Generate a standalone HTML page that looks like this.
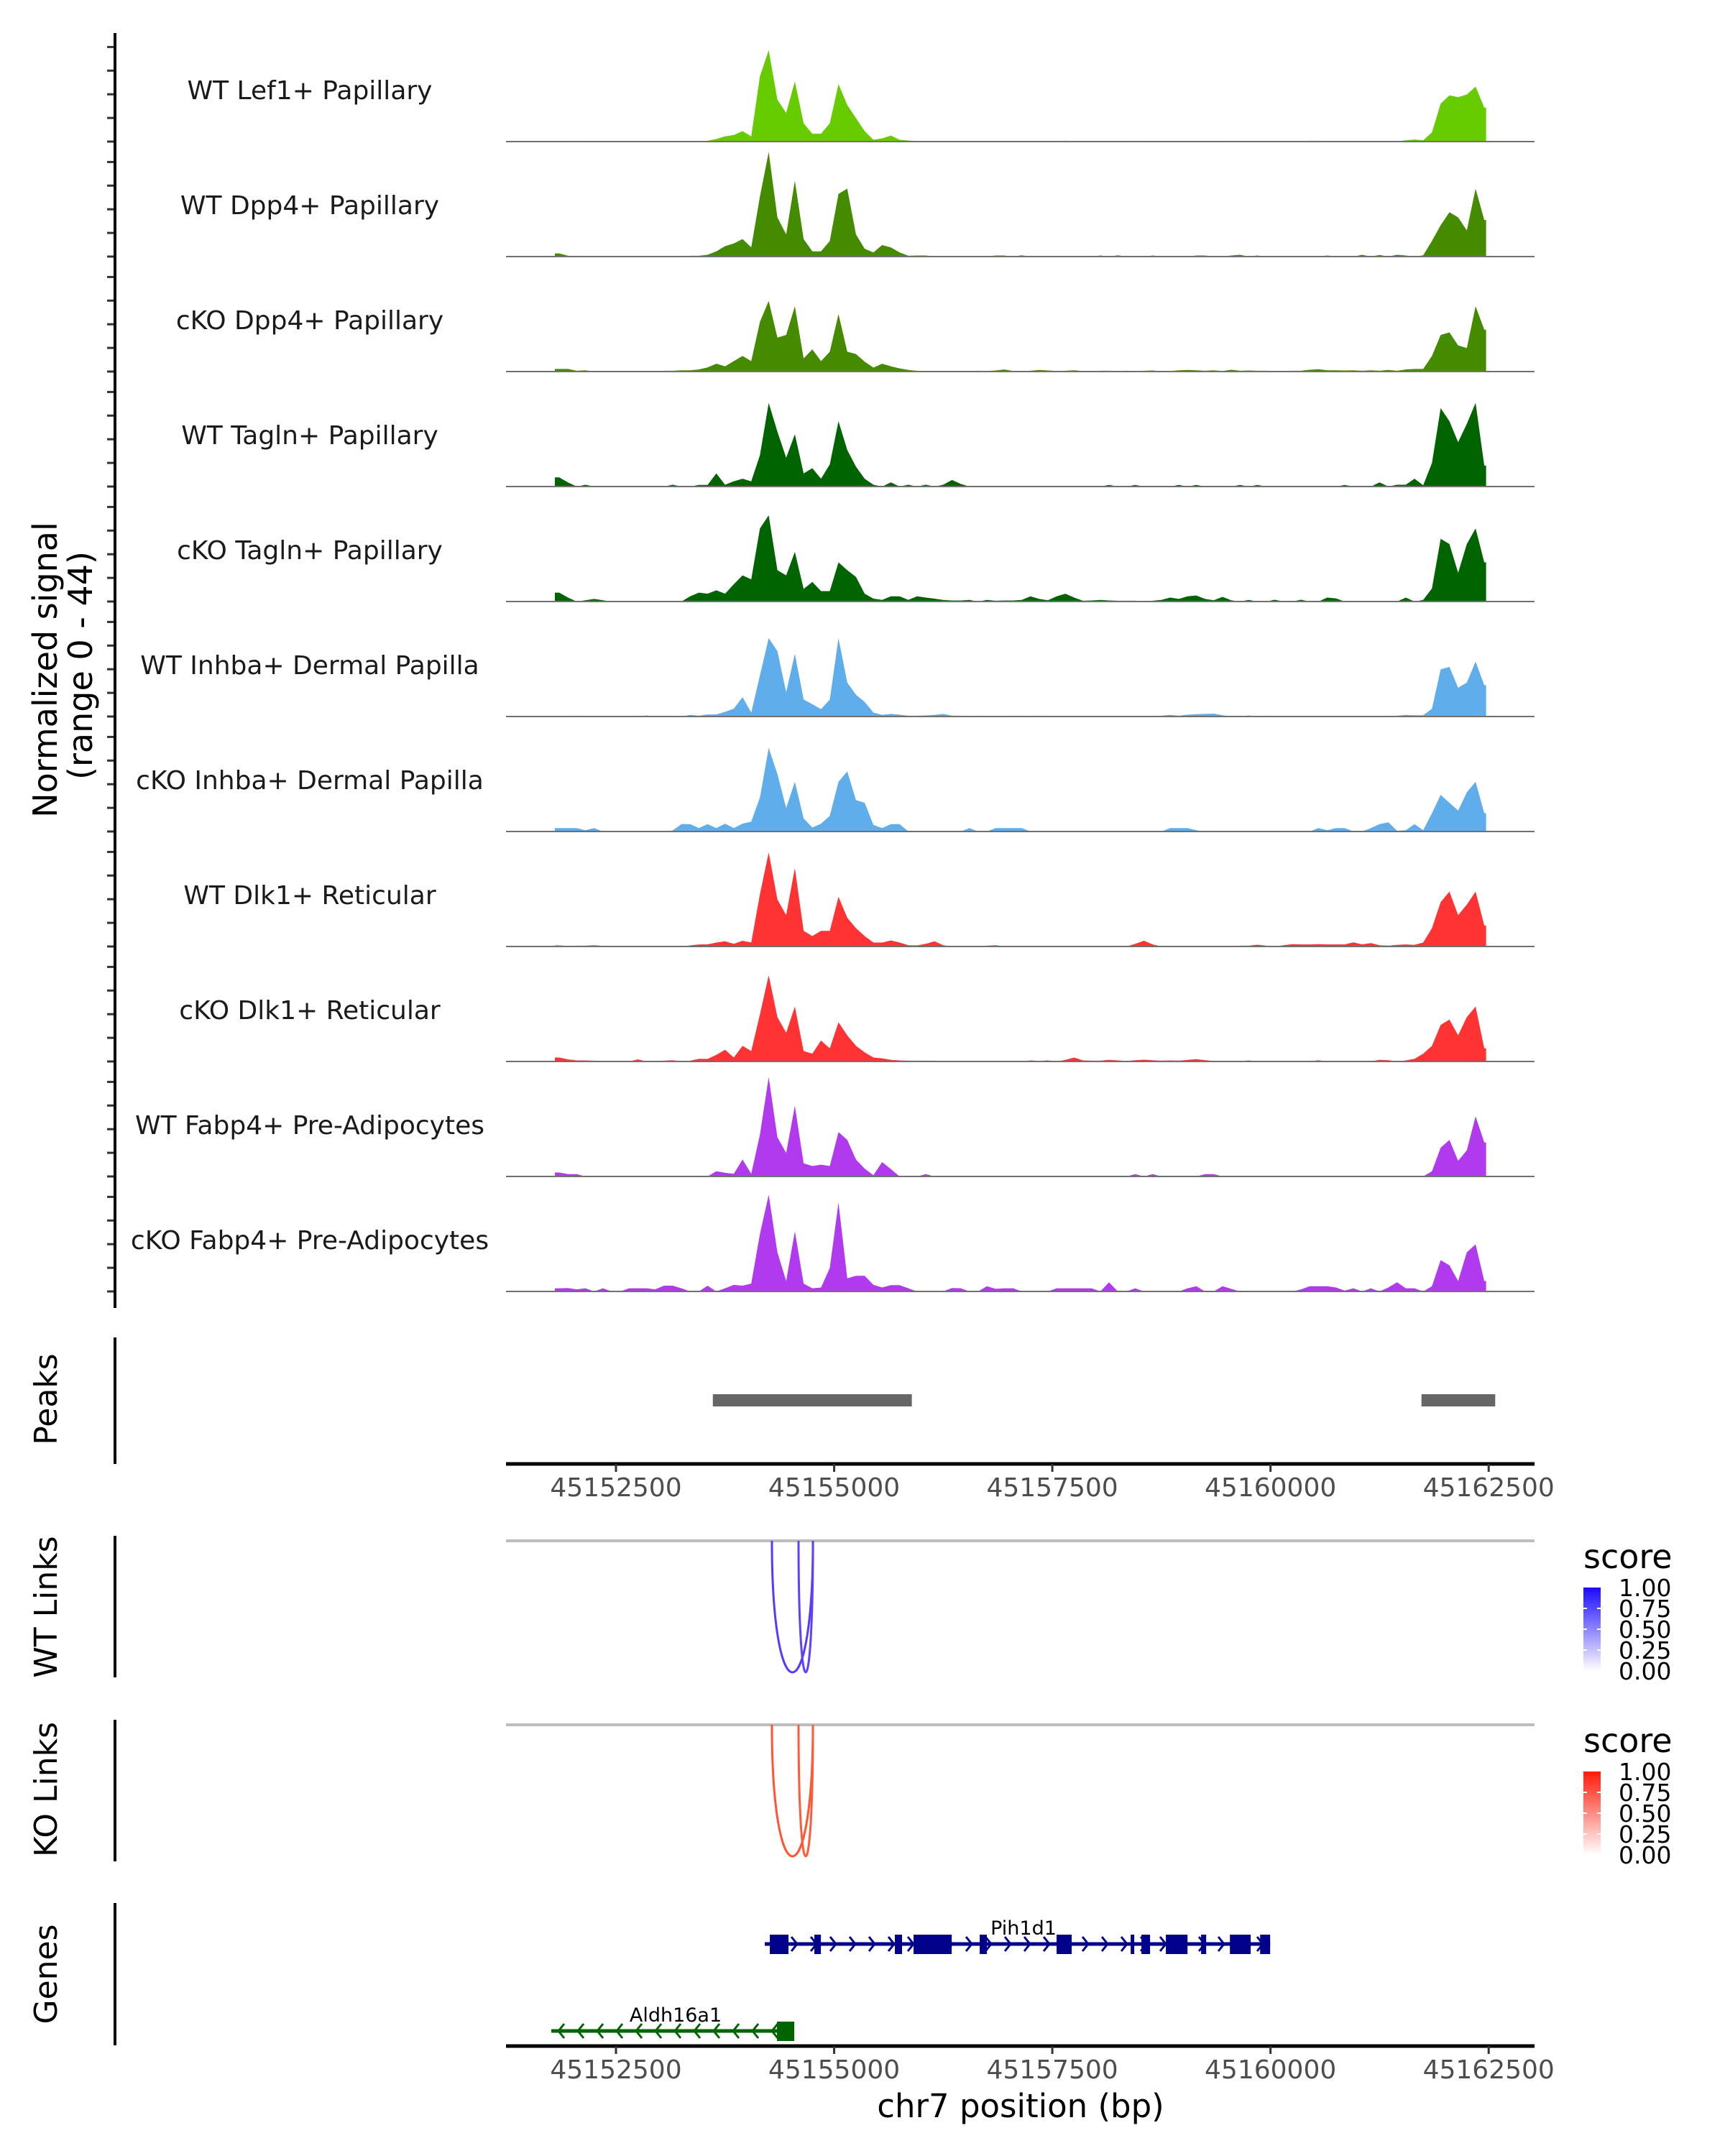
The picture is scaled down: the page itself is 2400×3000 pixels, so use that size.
<!DOCTYPE html>
<html><head><meta charset="utf-8">
<style>
html,body{margin:0;padding:0;background:#fff;}
svg{display:block;}
text{font-family:"DejaVu Sans","Liberation Sans",sans-serif;}
</style></head>
<body>
<svg id="chart" width="2400" height="3000" viewBox="0 0 2400 3000" xmlns="http://www.w3.org/2000/svg">
<rect width="2400" height="3000" fill="#fff"/>
</svg>
<script>
// ---- data ----
const trackNames = ["WT Lef1+ Papillary","WT Dpp4+ Papillary","cKO Dpp4+ Papillary","WT Tagln+ Papillary","cKO Tagln+ Papillary","WT Inhba+ Dermal Papilla","cKO Inhba+ Dermal Papilla","WT Dlk1+ Reticular","cKO Dlk1+ Reticular","WT Fabp4+ Pre-Adipocytes","cKO Fabp4+ Pre-Adipocytes"];
const trackColors = ["#66cc00","#448b00","#448b00","#006400","#006400","#5fadeb","#5fadeb","#ff3333","#ff3333","#b23aee","#b23aee"];
const binStart = 45151800;
const binSize = 100;
const yMax = 44;
const lef1WT = [0,0.2,0.3,0,0,0,0,0,0,0, 0,0,0.1,0.1,0,0,0.2,0.3,1,2, 2.5,4,2,25,35,16,11,23,7,3, 3,7,22,14,9,4,0.7,1.2,2.3,0.7, 0.4,0.2,0.2,0.2,0.1,0.1,0.1,0,0,0, 0,0,0,0.2,0.1,0.2,0.1,0.2,0.3,0.2, 0.1,0,0,0.1,0.2,0,0.3,0.1,0.2,0.1, 0,0.1,0.2,0.1,0,0.1,0.2,0.3,0.1,0.1, 0,0,0,0,0,0.2,0.3,0.3,0.1,0.1, 0.1,0,0,0.1,0.2,0,0.1,0.5,0.8,0.5, 3.5,14.5,17.7,17,18,21,13];
const dpp4WT = [1.2,0.3,0,0,0,0,0,0,0,0, 0,0,0,0,0,0.3,0.3,0.7,2,4, 5,6.7,3.5,23,40,15,8.5,29,6.7,2, 2,6,24,26,8.5,3,1.6,4.4,3.5,1.6, 0.3,0.4,0.4,0,0,0,0,0,0,0, 0.4,0.4,0,0.5,0,0,0,0,0,0, 0,0,0.4,0,0.5,0,0,0,0.4,0, 0,0,0,0.4,0.4,0,0,0.4,0.7,0, 0.4,0,0,0,0,0,0,0,0.4,0, 0,0,0.7,0,0.6,0,0.7,0.4,0,0.5, 6,12,17,15,10,26,14];
const dpp4KO = [1,1,0.3,0.5,0,0,0,0,0,0, 0,0,0.3,0.3,0.5,0.5,0.8,1.6,3,2, 4,6,4,19,27,13,14,25,5,8.5, 4,7.6,22,7.6,6.7,3.8,1.5,3,2,1.2, 0.6,0.3,0.2,0,0,0,0,0.2,0.3,0.2, 0.4,0.8,0.2,0.2,0.3,0.6,0.4,0.2,0.3,0.5, 0.2,0,0.3,0.3,0.2,0.3,0.2,0.3,0.4,0.1, 0.2,0.5,0.6,0.5,0.3,0.5,0.2,0.7,0.3,0.4, 0.3,0.3,0.2,0.2,0.3,0.3,0.7,0.9,0.5,0.5, 0.4,0.5,0.3,0.5,0.3,0.6,0.3,0.8,1,1, 6,14,15,10,9,25,16];
const taglnWT = [3.5,1.6,0,0.7,0,0,0,0,0,0, 0,0,0,0.7,0,0,0.6,0.6,5,0.7, 2,3,2,12,32,21,11,20,5,7, 3,8.5,25,14,7.6,3,0.7,0,1.6,0, 0.7,0,0.7,0,0.7,2.5,1,0,0,0, 0,0,0,0,0,0,0,0,0,0, 0,0,0,0.6,0,0,0.6,0,0,0, 0,0.6,0,0.6,0,0,0,0,0.6,0, 0.6,0,0,0,0,0,0,0,0,0, 0.6,0,0,0,1.6,0,0.7,0.7,3,0.5, 9,30,25,17,24,32,8];
const taglnKO = [3.4,1.5,0,0.5,1,0.5,0,0,0,0, 0,0,0.3,0,0,2,3.4,3,4.3,3, 6.6,10,8.5,28,33,12,10,19,4.8,7.5, 4,4,15,12,9.4,3,1.1,0.6,2,2, 0.6,2,1.5,1.1,0.6,0.4,0.4,0.6,0,0.6, 0.3,0.4,0.4,0.6,2,1,0.5,2,3,1.5, 0.3,0.4,0.6,0.4,0.3,0.3,0.3,0,0.3,0.6, 1.5,1,2,2.3,1,0.5,1.8,0.5,0,0.6, 0,0,0.7,0,0,0.7,0,0,1.5,1.2, 0,0,0,0,0,0,0,1.5,0,0.6, 5,24,22,11,22,28,15];
const inhbaWT = [0,0,0.3,0,0,0,0,0,0,0, 0.4,0,0.3,0,0,0.6,0.3,0.8,0.8,1.8, 3,7.4,1.5,15.7,30,25,9.3,24,6.5,4.7, 2.8,6.5,30,13,8.3,5.6,1.5,0.6,1,0.7, 0.3,0.3,0.4,0.6,1,0.3,0.3,0,0.3,0, 0,0,0.3,0,0,0.3,0,0,0,0, 0,0,0,0,0,0,0,0,0,0.3, 0.6,0.3,0.7,0.9,1,1.1,0.5,0,0,0.4, 0,0.3,0,0,0,0,0,0,0,0, 0,0,0,0,0,0,0.3,0.6,0.5,0.5, 3,18,19,11,13,21,12];
const inhbaKO = [1.3,1.3,1.3,0.5,1.3,0,0,0,0,0, 0,0,0,0.4,2.8,2.8,1.3,2.8,1.3,3, 1.3,3,3.8,13,32,22,9,19,5,1.5, 3,6,19,23,12,11,2.5,1.3,2.8,2.8, 0,0,0,0,0,0,0,1.3,0,0, 1.3,1.3,1.3,1.3,0,0,0,0,0,0, 0,0,0,0,0,0,0,0,0,0, 1.3,1.3,1.3,0.5,0,0,0,0,0,0, 0,0,0,0,0,0,0,1.3,0.5,1.3, 1.3,0,0,1.3,2.8,3.5,0.3,0.5,2.8,0.5, 7,14,11,8,15,19,7];
const dlk1WT = [0.4,0.2,0.3,0.3,0.5,0.2,0,0,0,0, 0,0,0,0,0,0.4,0.8,0.8,1.5,2, 1,2.2,1.5,20,36,18,12,30,6,4, 6,6,19,11,7,4,1.5,1.5,2.3,1.5, 0.5,0.4,1,2,0.5,0,0,0,0,0.3, 0.5,0,0,0,0,0,0,0,0,0, 0,0,0,0,0.3,0,1,2.2,0.8,0, 0,0,0,0,0,0,0,0,0.3,0.3, 0.7,0.3,0,0.5,0.9,0.8,0.8,0.9,0.8,0.8, 0.8,1.6,0.8,1.3,0.5,0.3,0.6,0.8,0.6,1.5, 7,17,21,12,16,21,8];
const dlk1KO = [1.5,0.8,0.4,0.4,0.3,0,0.3,0,0,0.8, 0,0,0.3,0.5,0,0.3,1,1,2.5,4.5, 1.5,6,4,18,33,17,11,21,4,3, 8,5,15,10,6,3.5,1.5,1.2,0.6,0.4, 0.3,0.3,0.3,0.3,0,0,0,0,0.3,0, 0,0,0,0,0.4,0.2,0.4,0,0.6,1.5, 0.4,0.3,0.3,0.6,0.4,0.2,0.5,0.7,0.5,0.3, 0.4,0.3,0.6,0.9,0.5,0.2,0,0,0,0.4, 0,0.3,0,0,0,0.3,0,0.5,0,0, 0,0,0,0,0.6,0.5,0,0.4,1,3, 6,14,16,10,17,21,5];
const fabp4WT = [1.5,0.9,0.9,0,0,0,0,0,0,0, 0,0,0,0,0,0,0,0,2,1.4, 1,6.5,1,16,38,15,9,27,5,4, 4.5,4,17,14,6.5,3,0.5,5.5,2.8,0, 0,0,0.9,0,0,0,0,0,0,0, 0,0,0,0,0,0,0,0,0,0, 0,0,0,0,0,0,0.9,0,0.9,0, 0,0,0,0,0.9,0.9,0,0,0,0, 0,0,0,0,0,0,0,0,0,0, 0,0,0,0,0,0,0,0,0,0, 2,11,14,6,10,23,13];
const fabp4KO = [1.2,1.3,0.8,1.2,0,1.2,0,0,1.2,1.2, 1.2,0.8,2.2,2.2,1.2,0,0,2.2,0,1.2, 2.5,2.2,3,22,37,15,4,23,3,1.2, 1.5,9,34,5,6,6,2.5,1.5,2.4,2.4, 1.2,0,0,0,0,1.3,1.2,0,0,2, 1,1.2,1.2,0,0,0,0,1.2,1.2,1.2, 1.2,1.2,0,3.5,0,0,1.2,0,0,0, 0,0,1.2,2,0,0,2,1,0,0, 0,0,0,0,0,0.8,2,2,2,1.5, 0.3,1.2,0,1.2,0,1.5,3.5,1.2,1.2,0, 2,12,10,4,15,18,4];
const trackValues = [lef1WT,dpp4WT,dpp4KO,taglnWT,taglnKO,inhbaWT,inhbaKO,dlk1WT,dlk1KO,fabp4WT,fabp4KO];
const xTicks = [45152500,45155000,45157500,45160000,45162500];
const peakStarts = [45153610,45161730];
const peakEnds = [45155890,45162575];
const wtLinkStarts = [45154287,45154592];
const wtLinkEnds = [45154757,45154757];
const koLinkStarts = [45154287,45154592];
const koLinkEnds = [45154757,45154757];
const legendTicks = ["1.00","0.75","0.50","0.25","0.00"];
const pihExonStarts = [45154263,45154773,45155696,45155910,45156668,45157549,45158398,45158521,45158801,45159205,45159535,45159881];
const pihExonEnds   = [45154477,45154848,45155778,45156347,45156750,45157722,45158439,45158620,45159049,45159263,45159773,45159996];
const pihRange = [45154205,45159996];
const aldhRange = [45151759,45154543];
const aldhExonStarts = [45154345];
const aldhExonEnds = [45154543];

// ---- helpers ----
const NS = "http://www.w3.org/2000/svg";
const svg = document.getElementById("chart");
function mk(tag, attrs, parent){ const e=document.createElementNS(NS,tag); for(const k in attrs) e.setAttribute(k,attrs[k]); (parent||svg).appendChild(e); return e; }
const X0 = 704, X1 = 2135;
function xs(bp){ return 857 + (bp-45152500)*0.12142; }
const trackH = 160;

// ---- tracks ----
trackValues.forEach((vals,k)=>{
  const base = 197 + 160*k;
  const g = mk("g",{});
  
  
  const ys = v => base - Math.min(v,yMax)/yMax*trackH;
  let d = "M"+xs(binStart).toFixed(1)+","+base;
  d += " L"+xs(binStart).toFixed(1)+","+ys(vals[0]).toFixed(1);
  vals.forEach((v,i)=>{ d += " L"+xs(binStart+binSize*(i+0.5)).toFixed(1)+","+ys(v).toFixed(1); });
  const endBp = binStart+binSize*vals.length;
  d += " L"+xs(endBp-30).toFixed(1)+","+ys(vals[vals.length-1]).toFixed(1);
  d += " L"+xs(endBp-30).toFixed(1)+","+base+" Z";
  const area = mk("path",{d:d,fill:trackColors[k]},g);
  
  
  const bl = mk("line",{x1:X0,x2:X1,y1:base,y2:base,stroke:"#707070","stroke-width":2},g);
  
  
  const lab = mk("text",{x:431,y:base-59,"font-size":36,"text-anchor":"middle",fill:"#1a1a1a"},g);
  lab.textContent = trackNames[k];
  
  
  for(let t=0;t<5;t++){
    const ty = base - t*32.9;
    const tk = mk("line",{x1:149,x2:160,y1:ty,y2:ty,stroke:"#333","stroke-width":3},g);
    
    
  }
});
const yAxis = mk("line",{x1:160,x2:160,y1:46,y2:1820,stroke:"#000","stroke-width":4});


const yt = mk("text",{"font-size":46,"text-anchor":"middle",transform:"translate(79,932) rotate(-90)"});
yt.textContent = "Normalized signal";


const yt2 = mk("text",{"font-size":46,"text-anchor":"middle",transform:"translate(128,926) rotate(-90)"});
yt2.textContent = "(range 0 - 44)";



// ---- side panel labels ----
function sideLabel(txt, cy, y1, y2, name){
  const t = mk("text",{"font-size":44,"text-anchor":"middle",transform:"translate(79,"+cy+") rotate(-90)"});
  t.textContent = txt;
  
  
  const l = mk("line",{x1:160,x2:160,y1:y1,y2:y2,stroke:"#000","stroke-width":4});
  
  
}
sideLabel("Peaks",1947,1861,2037,"peaks");
sideLabel("WT Links",2236,2137,2334,"wt-links");
sideLabel("KO Links",2490,2393,2590,"ko-links");
sideLabel("Genes",2747,2648,2846,"genes");

// ---- x axes ----
function xAxis(y, name){
  const l = mk("line",{x1:X0,x2:X1,y1:y,y2:y,stroke:"#000","stroke-width":5});
  
  
  xTicks.forEach(t=>{
    const tk = mk("line",{x1:xs(t),x2:xs(t),y1:y,y2:y+11,stroke:"#333","stroke-width":3});
    
    
    const tl = mk("text",{x:xs(t),y:y+45,"font-size":36,"text-anchor":"middle",fill:"#4d4d4d"});
    tl.textContent = String(t);
    
    
  });
}
xAxis(2037,"peaks-x-axis");
xAxis(2847,"genes-x-axis");
const xt = mk("text",{x:1420,y:2946,"font-size":45,"text-anchor":"middle"});
xt.textContent = "chr7 position (bp)";



// ---- peaks ----
peakStarts.forEach((s,i)=>{
  const r = mk("rect",{x:xs(s),y:1940,width:xs(peakEnds[i])-xs(s),height:17,fill:"#666666"});
  
  
});

// ---- links ----
function linkPanel(y0, starts, ends, colors, name){
  const gl = mk("line",{x1:X0,x2:X1,y1:y0,y2:y0,stroke:"#bebebe","stroke-width":4});
  
  
  const depth = 183;
  starts.forEach((s,i)=>{
    const a = xs(s), b = xs(ends[i]);
    const p = mk("path",{d:"M"+a+","+y0+" C"+a+","+(y0+depth*1.333)+" "+b+","+(y0+depth*1.333)+" "+b+","+y0,fill:"none",stroke:colors[i],"stroke-width":3});
    
    
  });
}
linkPanel(2144, wtLinkStarts, wtLinkEnds, ["#5a38ff","#6040ff"], "wt-link");
linkPanel(2400, koLinkStarts, koLinkEnds, ["#ff5533","#ff5a3a"], "ko-link");

// ---- legends ----
const defs = mk("defs",{});
function grad(id, c){
  const lg = mk("linearGradient",{id:id,x1:0,y1:0,x2:0,y2:1},defs);
  mk("stop",{offset:"0","stop-color":c},lg);
  mk("stop",{offset:"1","stop-color":"#ffffff"},lg);
}
grad("gWT","#1a0aff"); grad("gKO","#ff1a0a");
function legend(yTitle, yTop, gid, name){
  const t = mk("text",{x:2203,y:yTitle+14,"font-size":46});
  t.textContent = "score";
  
  
  const r = mk("rect",{x:2203,y:yTop,width:24,height:116,fill:"url(#"+gid+")"});
  
  
  legendTicks.forEach((lab,i)=>{
    const yy = yTop + i*29;
    if(i>0 && i<4){
      const tk = mk("line",{x1:2203,x2:2208,y1:yy,y2:yy,stroke:"#fff","stroke-width":2});
      
      
      const tk2 = mk("line",{x1:2222,x2:2227,y1:yy,y2:yy,stroke:"#fff","stroke-width":2});
      
      
    }
    const tl = mk("text",{x:2252,y:yy+12,"font-size":33});
    tl.textContent = lab;
    
    
  });
}
legend(2168,2209,"gWT","wt-legend");
legend(2424,2465,"gKO","ko-legend");

// ---- genes ----
function chevrons(x1,x2,y,dir,color,g){
  for(let x=x1+14;x<x2-6;x+=27){
    const p = mk("polyline",{points: dir>0 ? (x-4)+","+(y-10)+" "+(x+4)+","+y+" "+(x-4)+","+(y+10) : (x+4)+","+(y-10)+" "+(x-4)+","+y+" "+(x+4)+","+(y+10), fill:"none",stroke:color,"stroke-width":3},g);
    
    
  }
}
function gene(name, range, es, ee, y, color, dir, labX, labY){
  const g = mk("g",{});
  
  
  mk("line",{x1:xs(range[0]),x2:xs(range[1]),y1:y,y2:y,stroke:color,"stroke-width":5},g);
  chevrons(xs(range[0]),xs(range[1]),y,dir,color,g);
  es.forEach((s,i)=>{
    const r = mk("rect",{x:xs(s),y:y-13,width:Math.max(4,xs(ee[i])-xs(s)),height:27,fill:color},g);
    
    
  });
  const t = mk("text",{x:labX,y:labY,"font-size":27,"text-anchor":"middle"},g);
  t.textContent = name;
  
  
}
gene("Pih1d1", pihRange, pihExonStarts, pihExonEnds, 2705, "#00008b", 1, 1424, 2692);
gene("Aldh16a1", aldhRange, aldhExonStarts, aldhExonEnds, 2826, "#006400", -1, 940, 2813);
</script>
</body></html>
